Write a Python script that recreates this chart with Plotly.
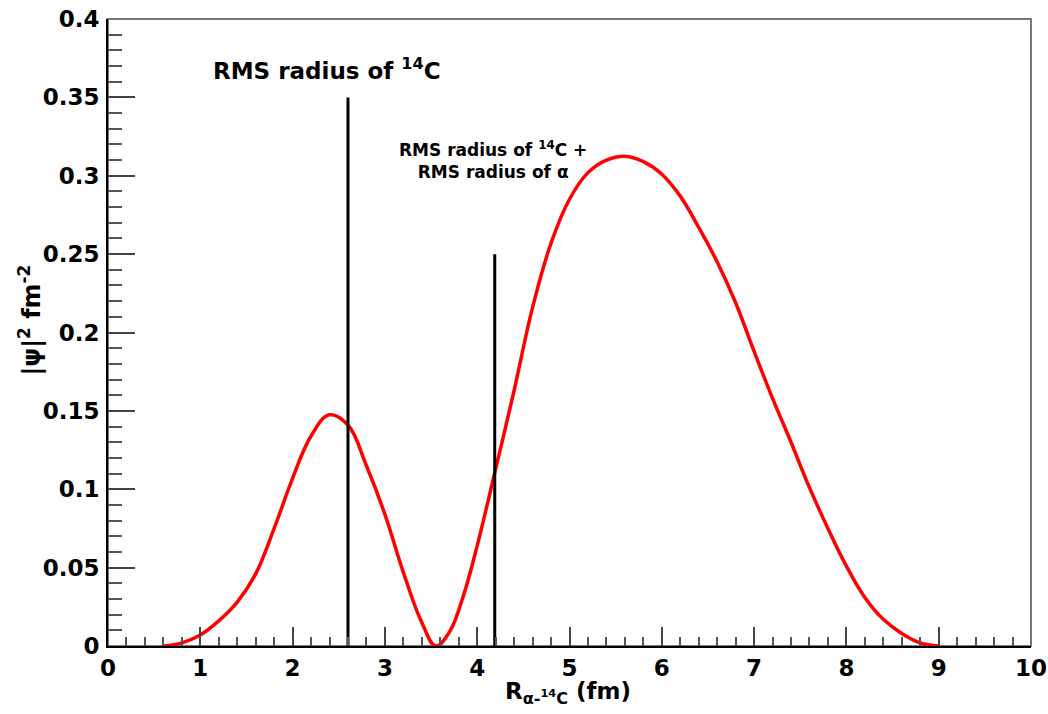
import plotly.graph_objects as go

# Wavefunction density |psi|^2 vs R (fm)
r_fm = [0.6, 0.8, 1.0, 1.2, 1.4, 1.6, 1.8, 2.0, 2.2, 2.4, 2.6, 2.8, 3.0,
        3.2, 3.4, 3.55, 3.7, 3.85, 4.0, 4.2, 4.4, 4.6, 4.8, 5.0, 5.2, 5.4, 5.6,
        5.8, 6.0, 6.2, 6.4, 6.6, 6.8, 7.0, 7.2, 7.4, 7.6, 7.8, 8.0, 8.2,
        8.4, 8.6, 8.8, 9.0]
psi2 = [0.0, 0.002, 0.007, 0.016, 0.028, 0.046, 0.075, 0.107, 0.134, 0.1475,
        0.141, 0.115, 0.084, 0.047, 0.015, 0.0, 0.009, 0.032, 0.064, 0.113,
        0.163, 0.216, 0.257, 0.285, 0.302, 0.310, 0.3125, 0.309, 0.301,
        0.287, 0.267, 0.245, 0.219, 0.188, 0.158, 0.130, 0.101, 0.075,
        0.051, 0.031, 0.017, 0.008, 0.002, 0.0]

# Marker lines (RMS radii)
rms_x = [2.6, 4.19]
rms_top = [0.35, 0.25]
rms_labels = ["RMS radius of <sup>14</sup>C",
              "RMS radius of <sup>14</sup>C +<br>RMS radius of α"]

x_ticks = list(range(0, 11))
y_ticks = [0, 0.05, 0.1, 0.15, 0.2, 0.25, 0.3, 0.35, 0.4]
y_ticktext = ["0", "0.05", "0.1", "0.15", "0.2", "0.25", "0.3", "0.35", "0.4"]

FONT = "DejaVu Sans"

fig = go.Figure()
fig.add_trace(go.Scatter(x=r_fm, y=psi2, mode="lines",
                         line=dict(color="#ff0000", width=3.5, shape="spline", smoothing=1.1),
                         showlegend=False, hoverinfo="skip"))
for xv, top in zip(rms_x, rms_top):
    fig.add_trace(go.Scatter(x=[xv, xv], y=[0, top], mode="lines",
                             line=dict(color="black", width=3),
                             showlegend=False, hoverinfo="skip"))

fig.add_annotation(x=1.12, y=0.368, xref="x", yref="y", text="<b>" + rms_labels[0] + "</b>",
                   showarrow=False, xanchor="left", yanchor="middle",
                   font=dict(family=FONT, size=23, color="black"))
fig.add_annotation(x=4.17, y=0.31, xref="x", yref="y", text="<b>" + rms_labels[1] + "</b>",
                   showarrow=False, xanchor="center", yanchor="middle", align="center",
                   font=dict(family=FONT, size=17, color="black"))

# axis titles
fig.add_annotation(x=0.498, y=-0.075, xref="paper", yref="paper",
                   text="<b>R<sub>α-<sup>14</sup>C</sub> (fm)</b>",
                   showarrow=False, xanchor="center", yanchor="middle",
                   font=dict(family=FONT, size=23, color="black"))
fig.add_annotation(x=-0.085, y=0.52, xref="paper", yref="paper",
                   text="<b>|ψ|<sup>2</sup> fm<sup>-2</sup></b>", textangle=-90,
                   showarrow=False, xanchor="center", yanchor="middle",
                   font=dict(family=FONT, size=24, color="black"))

# frame
fig.add_shape(type="rect", xref="paper", yref="paper", x0=0, x1=1, y0=0, y1=1,
              line=dict(color="#777777", width=2), layer="below")

fig.update_xaxes(range=[0, 10], tickvals=x_ticks, ticktext=[str(v) for v in x_ticks],
                 ticks="inside", ticklen=19, tickwidth=2, tickcolor="#444444",
                 minor=dict(dtick=0.2, ticks="inside", ticklen=9, tickwidth=2, tickcolor="#555555"),
                 showline=True, linecolor="black", linewidth=2, showgrid=False, zeroline=False,
                 ticklabelstandoff=0, automargin=False, ticklabeloverflow="allow",
                 tickfont=dict(family=FONT, size=23, color="black", weight="bold"))
fig.update_yaxes(range=[0, 0.4], tickvals=y_ticks, ticktext=y_ticktext,
                 ticks="inside", ticklen=27, tickwidth=2, tickcolor="#444444",
                 minor=dict(dtick=0.01, ticks="inside", ticklen=14, tickwidth=2, tickcolor="#555555"),
                 showline=True, linecolor="black", linewidth=2, showgrid=False, zeroline=False,
                 ticklabelstandoff=2, automargin=False, ticklabeloverflow="allow",
                 tickfont=dict(family=FONT, size=23, color="black", weight="bold"))

fig.update_layout(width=1048, height=714, plot_bgcolor="white", paper_bgcolor="white",
                  margin=dict(l=108, r=17, t=19, b=68, autoexpand=False), showlegend=False)

# remove the default page margin so the figure fills the window exactly
fig.write_html("out.html", config={"displayModeBar": False},
               post_script="document.body.style.margin='0';document.body.style.overflow='hidden';")
